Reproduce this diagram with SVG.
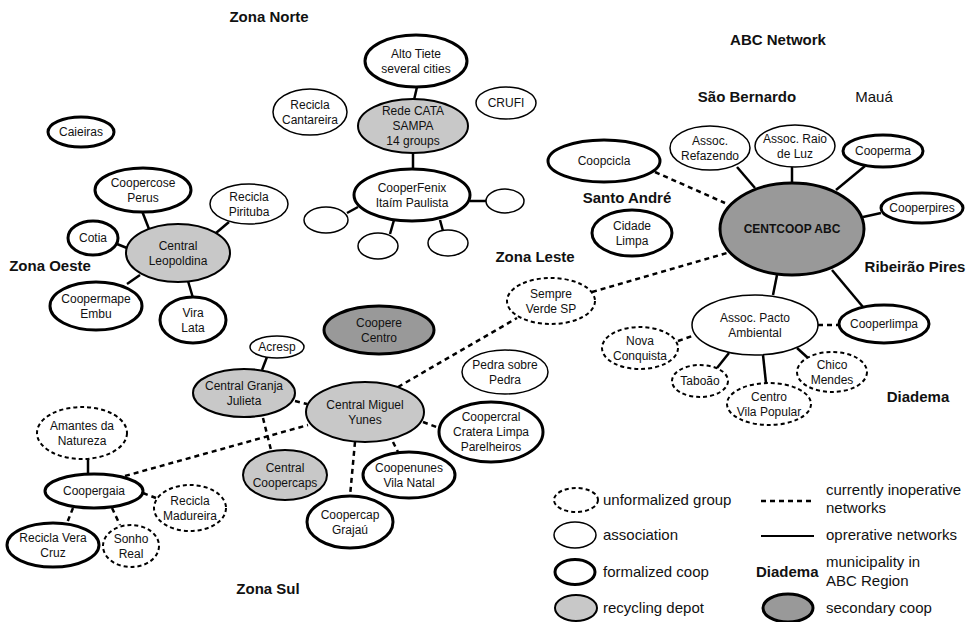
<svg xmlns="http://www.w3.org/2000/svg" width="968" height="622" viewBox="0 0 968 622">
<defs>
<style>
text{font-family:"Liberation Sans",Arial,sans-serif;font-size:12px;text-anchor:middle;fill:#111}
.zone{font-size:15px;font-weight:bold}
.plain15{font-size:15px}
.leg{font-size:15px;text-anchor:start}
.b{font-weight:bold}
ellipse{stroke:#000}
.assoc{fill:#fff;stroke-width:1.5}
.coop{fill:#fff;stroke-width:3}
.depot{fill:#c8c8c8;stroke-width:2}
.sec{fill:#999;stroke-width:3}
.unf{fill:#fff;stroke-width:2;stroke-dasharray:4 3}
.op{stroke:#000;stroke-width:2.5;fill:none}
.inop{stroke:#000;stroke-width:2.5;fill:none;stroke-dasharray:5 4}
</style>
</defs>
<rect width="968" height="622" fill="#fff"/>

<g id="connectors">
<line class="op" x1="417" y1="87" x2="414" y2="100"/>
<line class="op" x1="413" y1="153" x2="413" y2="169"/>
<line class="op" x1="358" y1="207" x2="347" y2="213"/>
<line class="op" x1="394" y1="220" x2="390" y2="234"/>
<line class="op" x1="440" y1="220" x2="443" y2="231"/>
<line class="op" x1="470" y1="201" x2="486" y2="201"/>
<line class="op" x1="149" y1="229" x2="142" y2="211"/>
<line class="op" x1="216" y1="233" x2="229" y2="222"/>
<line class="op" x1="127" y1="248" x2="117" y2="244"/>
<line class="op" x1="140" y1="275" x2="127" y2="284"/>
<line class="op" x1="188" y1="281" x2="193" y2="298"/>
<line class="op" x1="267" y1="357" x2="262" y2="370"/>
<line class="op" x1="88" y1="459" x2="88" y2="474"/>
<line class="op" x1="737" y1="167" x2="755" y2="188"/>
<line class="op" x1="792" y1="167" x2="792" y2="183"/>
<line class="op" x1="865" y1="166" x2="836" y2="190"/>
<line class="op" x1="881" y1="213" x2="863" y2="217"/>
<line class="op" x1="777" y1="275" x2="773" y2="295"/>
<line class="op" x1="832" y1="270" x2="863" y2="307"/>
<line class="op" x1="729" y1="353" x2="717" y2="368"/>
<line class="op" x1="763" y1="355" x2="766" y2="383"/>
<line class="op" x1="797" y1="348" x2="808" y2="358"/>
<line class="inop" x1="655" y1="172" x2="725" y2="203"/>
<line class="inop" x1="592" y1="292" x2="727" y2="253"/>
<line class="inop" x1="398" y1="387" x2="517" y2="318"/>
<line class="inop" x1="125" y1="476" x2="308" y2="425"/>
<line class="inop" x1="263" y1="418" x2="271" y2="450"/>
<line class="inop" x1="295" y1="401" x2="307" y2="404"/>
<line class="inop" x1="355" y1="442" x2="350" y2="496"/>
<line class="inop" x1="393" y1="442" x2="398" y2="452"/>
<line class="inop" x1="423" y1="422" x2="439" y2="428"/>
<line class="inop" x1="818" y1="325" x2="839" y2="325"/>
<line class="inop" x1="678" y1="341" x2="695" y2="335"/>
<line class="inop" x1="143" y1="493" x2="156" y2="498"/>
<line class="inop" x1="73" y1="508" x2="67" y2="523"/>
<line class="inop" x1="112" y1="508" x2="120" y2="525"/>
</g>

<g id="labels">
<text class="zone" x="269" y="22">Zona Norte</text>
<text class="zone" x="50" y="271">Zona Oeste</text>
<text class="zone" x="535" y="262">Zona Leste</text>
<text class="zone" x="268" y="594">Zona Sul</text>
<text class="zone" x="778" y="45">ABC Network</text>
<text class="zone" x="747" y="102">São Bernardo</text>
<text class="plain15" x="874" y="102">Mauá</text>
<text class="zone" x="627" y="203">Santo André</text>
<text class="zone" x="915" y="272">Ribeirão Pires</text>
<text class="zone" x="918" y="402">Diadema</text>
</g>

<g id="alto-tiete"><ellipse class="coop" cx="416" cy="61" rx="51" ry="26"/><text x="416" y="57.5">Alto Tiete</text><text x="416" y="72.5">several cities</text></g>
<g id="recicla-cantareira"><ellipse class="assoc" cx="310" cy="112" rx="37" ry="23"/><text x="310" y="108.5">Recicla</text><text x="310" y="123.5">Cantareira</text></g>
<g id="crufi"><ellipse class="assoc" cx="506" cy="103" rx="30" ry="16"/><text x="506" y="107.3">CRUFI</text></g>
<g id="rede-cata-sampa"><ellipse class="depot" cx="413" cy="126" rx="55" ry="27"/><text x="413" y="115.3">Rede CATA</text><text x="413" y="130.3">SAMPA</text><text x="413" y="145.3">14 groups</text></g>
<g id="cooperfenix"><ellipse class="coop" cx="412" cy="195" rx="58" ry="26"/><text x="412" y="191.5">CooperFenix</text><text x="412" y="206.5">Itaím Paulista</text></g>
<g id="fenix-group-1"><ellipse class="assoc" cx="326" cy="220" rx="22" ry="13"/></g>
<g id="fenix-group-2"><ellipse class="assoc" cx="378" cy="246" rx="20" ry="13"/></g>
<g id="fenix-group-3"><ellipse class="assoc" cx="448" cy="243" rx="20" ry="13"/></g>
<g id="fenix-group-4"><ellipse class="assoc" cx="505" cy="201" rx="19" ry="12"/></g>

<g id="caieiras"><ellipse class="coop" cx="81" cy="132" rx="33" ry="15"/><text x="81" y="136.3">Caieiras</text></g>
<g id="coopercose-perus"><ellipse class="coop" cx="143" cy="190" rx="48" ry="22"/><text x="143" y="186.5">Coopercose</text><text x="143" y="201.5">Perus</text></g>
<g id="recicla-pirituba"><ellipse class="assoc" cx="249" cy="204" rx="39" ry="20"/><text x="249" y="200.5">Recicla</text><text x="249" y="215.5">Pirituba</text></g>
<g id="central-leopoldina"><ellipse class="depot" cx="178" cy="253" rx="52" ry="29"/><text x="178" y="249.5">Central</text><text x="178" y="264.5">Leopoldina</text></g>
<g id="cotia"><ellipse class="coop" cx="93" cy="238" rx="25" ry="17"/><text x="93" y="242.3">Cotia</text></g>
<g id="coopermape-embu"><ellipse class="coop" cx="96" cy="306" rx="46" ry="24"/><text x="96" y="302.5">Coopermape</text><text x="96" y="317.5">Embu</text></g>
<g id="vira-lata"><ellipse class="coop" cx="193" cy="320" rx="33" ry="23"/><text x="193" y="316.5">Vira</text><text x="193" y="331.5">Lata</text></g>

<g id="acresp"><ellipse class="assoc" cx="277" cy="347" rx="27" ry="11"/><text x="277" y="351.3">Acresp</text></g>
<g id="central-granja-julieta"><ellipse class="depot" cx="244" cy="393" rx="51" ry="24"/><text x="244" y="389.5">Central Granja</text><text x="244" y="404.5">Julieta</text></g>
<g id="coopere-centro"><ellipse class="sec" cx="379" cy="330" rx="55" ry="24"/><text x="379" y="326.5">Coopere</text><text x="379" y="341.5">Centro</text></g>
<g id="central-miguel-yunes"><ellipse class="depot" cx="365" cy="412" rx="59" ry="30"/><text x="365" y="408.5">Central Miguel</text><text x="365" y="423.5">Yunes</text></g>
<g id="pedra-sobre-pedra"><ellipse class="assoc" cx="505" cy="372" rx="43" ry="22"/><text x="505" y="368.5">Pedra sobre</text><text x="505" y="383.5">Pedra</text></g>
<g id="coopercral"><ellipse class="coop" cx="491" cy="432" rx="52" ry="30"/><text x="491" y="421.3">Coopercral</text><text x="491" y="436.3">Cratera Limpa</text><text x="491" y="451.3">Parelheiros</text></g>
<g id="coopenunes"><ellipse class="coop" cx="409" cy="475" rx="46" ry="23"/><text x="409" y="471.5">Coopenunes</text><text x="409" y="486.5">Vila Natal</text></g>
<g id="central-coopercaps"><ellipse class="depot" cx="285" cy="475" rx="42" ry="25"/><text x="285" y="471.5">Central</text><text x="285" y="486.5">Coopercaps</text></g>
<g id="coopercap-grajau"><ellipse class="coop" cx="350" cy="522" rx="43" ry="26"/><text x="350" y="518.5">Coopercap</text><text x="350" y="533.5">Grajaú</text></g>
<g id="sempre-verde-sp"><ellipse class="unf" cx="551" cy="301" rx="44" ry="23"/><text x="551" y="297.5">Sempre</text><text x="551" y="312.5">Verde SP</text></g>

<g id="amantes-da-natureza"><ellipse class="unf" cx="82" cy="433" rx="45" ry="26"/><text x="82" y="429.5">Amantes da</text><text x="82" y="444.5">Natureza</text></g>
<g id="coopergaia"><ellipse class="coop" cx="94" cy="491" rx="49" ry="17"/><text x="94" y="495.3">Coopergaia</text></g>
<g id="recicla-madureira"><ellipse class="unf" cx="190" cy="508" rx="36" ry="23"/><text x="190" y="504.5">Recicla</text><text x="190" y="519.5">Madureira</text></g>
<g id="recicla-vera-cruz"><ellipse class="coop" cx="53" cy="545" rx="46" ry="22"/><text x="53" y="541.5">Recicla Vera</text><text x="53" y="556.5">Cruz</text></g>
<g id="sonho-real"><ellipse class="unf" cx="131" cy="546" rx="28" ry="21"/><text x="131" y="542.5">Sonho</text><text x="131" y="557.5">Real</text></g>

<g id="centcoop-abc"><ellipse class="sec" cx="792" cy="229" rx="72" ry="46"/><text class="b" x="792" y="233.3">CENTCOOP ABC</text></g>
<g id="coopcicla"><ellipse class="coop" cx="604" cy="161" rx="56" ry="21"/><text x="604" y="165.3">Coopcicla</text></g>
<g id="cidade-limpa"><ellipse class="coop" cx="632" cy="233" rx="40" ry="23"/><text x="632" y="229.5">Cidade</text><text x="632" y="244.5">Limpa</text></g>
<g id="assoc-refazendo"><ellipse class="assoc" cx="710" cy="148" rx="40" ry="22"/><text x="710" y="144.5">Assoc.</text><text x="710" y="159.5">Refazendo</text></g>
<g id="assoc-raio-de-luz"><ellipse class="assoc" cx="795" cy="146" rx="40" ry="21"/><text x="795" y="142.5">Assoc. Raio</text><text x="795" y="157.5">de Luz</text></g>
<g id="cooperma"><ellipse class="coop" cx="883" cy="151" rx="40" ry="16"/><text x="883" y="155.3">Cooperma</text></g>
<g id="cooperpires"><ellipse class="coop" cx="922" cy="208" rx="41" ry="15"/><text x="922" y="212.3">Cooperpires</text></g>
<g id="assoc-pacto-ambiental"><ellipse class="assoc" cx="755" cy="325" rx="63" ry="30"/><text x="755" y="321.5">Assoc. Pacto</text><text x="755" y="336.5">Ambiental</text></g>
<g id="cooperlimpa"><ellipse class="coop" cx="884" cy="324" rx="45" ry="19"/><text x="884" y="328.3">Cooperlimpa</text></g>
<g id="nova-conquista"><ellipse class="unf" cx="640" cy="348" rx="38" ry="21"/><text x="640" y="344.5">Nova</text><text x="640" y="359.5">Conquista</text></g>
<g id="taboao"><ellipse class="unf" cx="700" cy="381" rx="28" ry="16"/><text x="700" y="385.3">Taboão</text></g>
<g id="centro-vila-popular"><ellipse class="unf" cx="769" cy="404" rx="42" ry="21"/><text x="769" y="400.5">Centro</text><text x="769" y="415.5">Vila Popular</text></g>
<g id="chico-mendes"><ellipse class="unf" cx="832" cy="372" rx="35" ry="20"/><text x="832" y="368.5">Chico</text><text x="832" y="383.5">Mendes</text></g>

<g id="legend">
<ellipse class="unf" cx="576" cy="500" rx="22" ry="12"/>
<text class="leg" x="603" y="505">unformalized group</text>
<ellipse class="assoc" cx="575" cy="535" rx="21" ry="13"/>
<text class="leg" x="603" y="540">association</text>
<ellipse class="coop" cx="575" cy="572" rx="20" ry="12.5"/>
<text class="leg" x="603" y="577">formalized coop</text>
<ellipse class="depot" cx="576" cy="608" rx="21" ry="13"/>
<text class="leg" x="603" y="613">recycling depot</text>
<line class="inop" x1="761" y1="501" x2="814" y2="501"/>
<text class="leg" x="826" y="495">currently inoperative</text>
<text class="leg" x="826" y="513">networks</text>
<line class="op" x1="761" y1="536" x2="814" y2="536" style="stroke-width:2"/>
<text class="leg" x="826" y="540">oprerative networks</text>
<text class="leg b" x="756" y="577">Diadema</text>
<text class="leg" x="826" y="567">municipality in</text>
<text class="leg" x="826" y="586">ABC Region</text>
<ellipse class="sec" cx="788" cy="608" rx="25" ry="14"/>
<text class="leg" x="826" y="613">secondary coop</text>
</g>
</svg>
